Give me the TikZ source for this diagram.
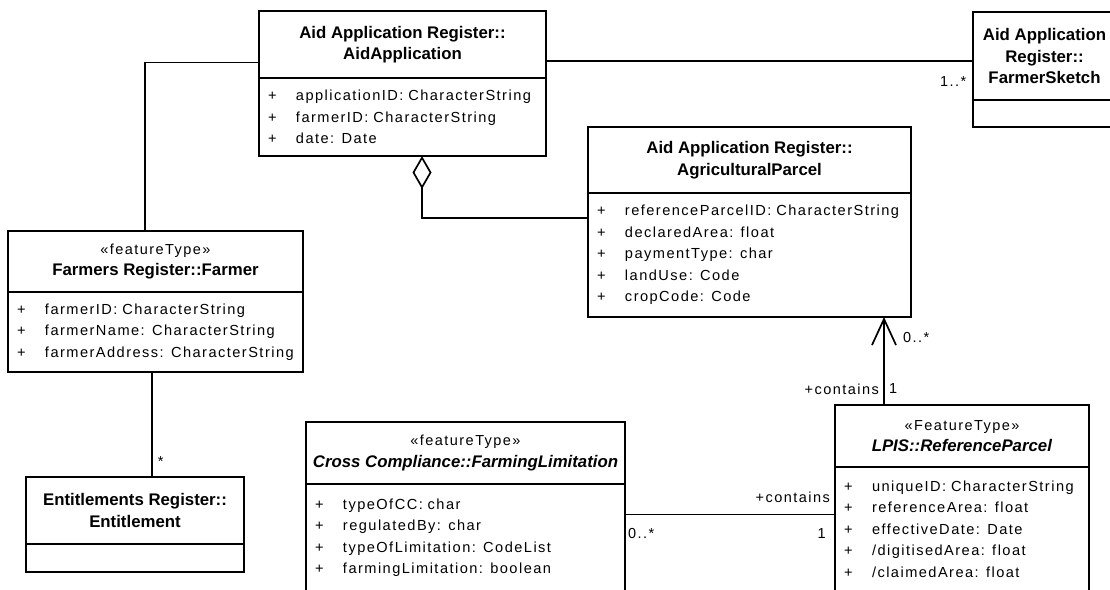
\documentclass[tikz,border=0pt]{standalone}
\usepackage{fontspec}
\setmainfont{Liberation Sans}
\newfontfamily\spacedfont[LetterSpace=10]{Liberation Sans}
\usetikzlibrary{arrows.meta,positioning}

\newcommand{\attr}[1]{\mbox{\makebox[28pt][l]{+}#1}}
\newcommand{\stereo}[1]{{\mdseries\spacedfont\fontsize{14.5}{20}\selectfont «#1»}}

\begin{document}
\begin{tikzpicture}[x=1pt,y=-1pt,
  classhead/.style={draw,line width=1.7pt,outer sep=0pt,inner sep=0pt,align=center,font=\fontsize{16.8}{21.5}\selectfont\bfseries},
  classbody/.style={draw,line width=1.7pt,outer sep=0pt,inner xsep=9pt,inner ysep=0pt,align=left,font=\spacedfont\fontsize{14.6}{21.5}\selectfont},
  assoc/.style={line width=1.7pt},
  aggr/.style={assoc,-{Diamond[open,length=33pt,width=19pt]}},
  nav/.style={assoc,-{Straight Barb[length=26pt,width=24pt]}},
  mult/.style={font=\spacedfont\fontsize{14.5}{16}\selectfont,inner sep=2pt}]
  \useasboundingbox (0,0) rectangle (1110,589);
  \clip (0,0) rectangle (1110,589);
  % classes
  \node[classhead,minimum width=287pt,minimum height=67pt] (aidapp) at (402.5,44.5) {Aid Application Register::\\AidApplication};
  \node[classbody,text width=269pt,minimum height=78pt,below=0pt of aidapp] (aidappattr) {\attr{applicationID: CharacterString}\\\attr{farmerID: CharacterString}\\\attr{date: Date}};
  \node[classhead,minimum width=143pt,minimum height=88pt] (sketch) at (1044.5,56) {Aid Application\\Register::\\FarmerSketch};
  \node[classbody,text width=125pt,minimum height=27pt,below=0pt of sketch] (sketchattr) {};
  \node[classhead,minimum width=323pt,minimum height=66pt] (agri) at (749.5,160) {Aid Application Register::\\AgriculturalParcel};
  \node[classbody,text width=305pt,minimum height=124pt,below=0pt of agri] (agriattr) {\attr{referenceParcelID: CharacterString}\\\attr{declaredArea: float}\\\attr{paymentType: char}\\\attr{landUse: Code}\\\attr{cropCode: Code}};
  \node[classhead,minimum width=295pt,minimum height=61pt] (farmer) at (155.5,261.5) {\stereo{featureType}\\Farmers Register::Farmer};
  \node[classbody,text width=277pt,minimum height=80pt,below=0pt of farmer] (farmerattr) {\attr{farmerID: CharacterString}\\\attr{farmerName: CharacterString}\\\attr{farmerAddress: CharacterString}};
  \node[classhead,minimum width=218pt,minimum height=67pt] (entitle) at (135,510.5) {Entitlements Register::\\Entitlement};
  \node[classbody,text width=200pt,minimum height=28pt,below=0pt of entitle] (entitleattr) {};
  \node[classhead,minimum width=319pt,minimum height=62pt] (limit) at (465.5,453) {\stereo{featureType}\\\textit{Cross Compliance::FarmingLimitation}};
  \node[classbody,text width=301pt,minimum height=107pt,below=0pt of limit] (limitattr) {\attr{typeOfCC: char}\\\attr{regulatedBy: char}\\\attr{typeOfLimitation: CodeList}\\\attr{farmingLimitation: boolean}};
  \node[classhead,minimum width=254pt,minimum height=62pt] (refparcel) at (962,436) {\stereo{FeatureType}\\\textit{LPIS::ReferenceParcel}};
  \node[classbody,text width=236pt,minimum height=124pt,below=0pt of refparcel] (refparcelattr) {\attr{uniqueID: CharacterString}\\\attr{referenceArea: float}\\\attr{effectiveDate: Date}\\\attr{/digitisedArea: float}\\\attr{/claimedArea: float}};
  % associations
  \coordinate (sk) at ([yshift=-5pt]sketch.west);
  \draw[assoc] (sk) node[mult,anchor=north east,xshift=-4pt,yshift=-13pt] {1..*} -- (sk -| aidapp.east);
  \coordinate (af) at ([yshift=-18pt]aidapp.west);
  \draw[assoc] (af) -| ([xshift=-10.5pt]farmer.north);
  \coordinate (fe) at ([xshift=-3.5pt]farmerattr.south);
  \draw[assoc] (fe) -- (fe |- entitle.north) node[mult,anchor=south west,xshift=3pt,yshift=8pt] {*};
  \coordinate (ag) at ([yshift=37pt]agriattr.west);
  \draw[aggr] (ag) -| ([xshift=19.5pt]aidappattr.south);
  \coordinate (nv) at ([xshift=-78pt]refparcel.north);
  \coordinate (nt) at (nv |- agriattr.south);
  \draw[nav] (nv) -- (nt);
  \node[mult,anchor=east] (navrole) at ([xshift=-3pt,yshift=16pt]nv) {+contains};
  \node[mult,anchor=west] (navone) at ([xshift=3pt,yshift=16pt]nv) {1};
  \node[mult,anchor=west] (navmany) at ([xshift=17pt,yshift=-21pt]nt) {0..*};
  \coordinate (lr) at ([yshift=23pt]limitattr.east);
  \coordinate (rl) at (lr -| refparcelattr.west);
  \draw[assoc] (lr) -- (rl);
  \node[mult,anchor=west] (limmany) at ([xshift=1pt,yshift=-19pt]lr) {0..*};
  \node[mult,anchor=east] (limone) at ([xshift=-7pt,yshift=-19pt]rl) {1};
  \node[mult,anchor=east] (limrole) at ([xshift=-3pt,yshift=17pt]rl) {+contains};
\end{tikzpicture}
\end{document}
